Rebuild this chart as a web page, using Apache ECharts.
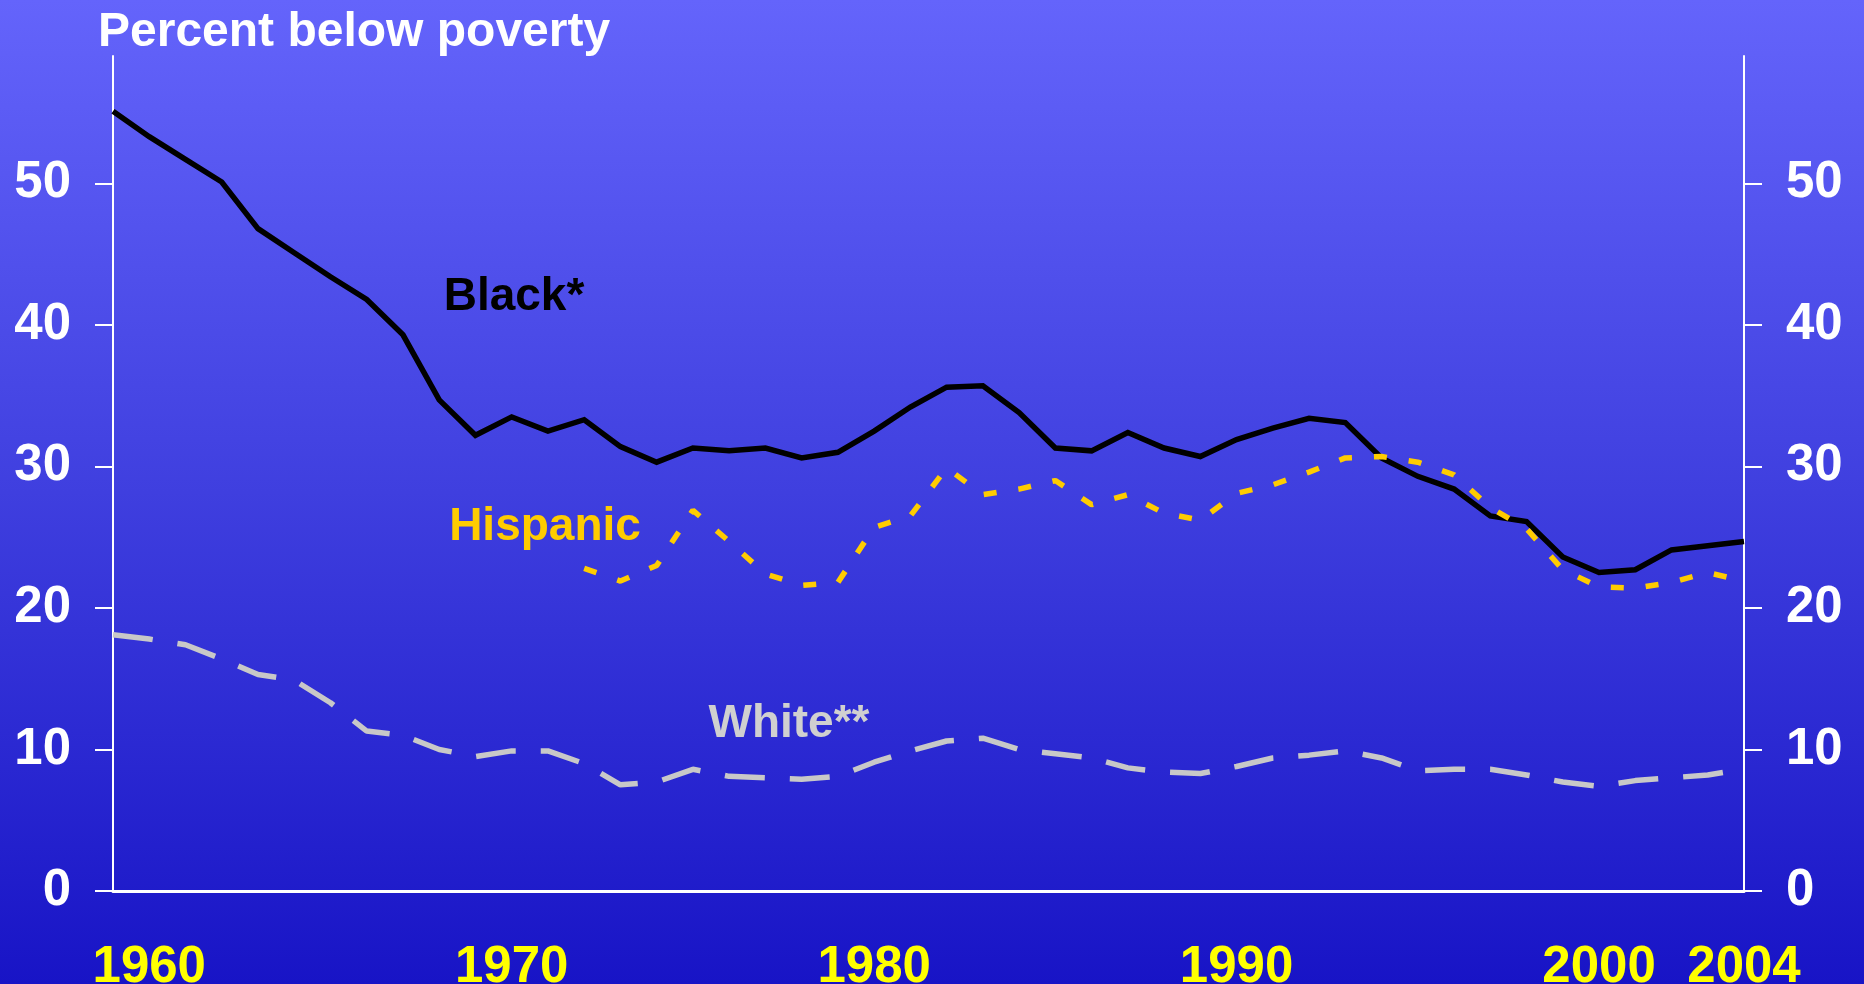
<!DOCTYPE html>
<html><head><meta charset="utf-8">
<script src="https://cdn.jsdelivr.net/npm/echarts@6/dist/echarts.min.js"></script>
<style>
html,body{margin:0;padding:0;width:1864px;height:984px;overflow:hidden;}
#c{width:1864px;height:984px;background:linear-gradient(to bottom,#6464fb 0%,#3f3fdf 50%,#1814c6 100%);}
</style></head><body><div id="c"></div>
<script>
const years = [1959,1960,1961,1962,1963,1964,1965,1966,1967,1968,1969,1970,1971,1972,1973,1974,1975,1976,1977,1978,1979,1980,1981,1982,1983,1984,1985,1986,1987,1988,1989,1990,1991,1992,1993,1994,1995,1996,1997,1998,1999,2000,2001,2002,2003,2004];
const blackValues = [55.1,53.3,51.7,50.1,46.8,45.1,43.4,41.8,39.3,34.7,32.2,33.5,32.5,33.3,31.4,30.3,31.3,31.1,31.3,30.6,31.0,32.5,34.2,35.6,35.7,33.8,31.3,31.1,32.4,31.3,30.7,31.9,32.7,33.4,33.1,30.6,29.3,28.4,26.5,26.1,23.6,22.5,22.7,24.1,24.4,24.7];
const hispanicValues = [null,null,null,null,null,null,null,null,null,null,null,null,null,22.8,21.9,23.0,26.9,24.7,22.4,21.6,21.8,25.7,26.5,29.9,28.0,28.4,29.0,27.3,28.0,26.7,26.2,28.1,28.7,29.6,30.6,30.7,30.3,29.4,27.1,25.6,22.7,21.5,21.4,21.8,22.5,21.9];
const whiteValues = [18.1,17.8,17.4,16.4,15.3,14.9,13.3,11.3,11.0,10.0,9.5,9.9,9.9,9.0,7.5,7.7,8.6,8.1,8.0,7.9,8.1,9.1,9.9,10.6,10.8,10.0,9.7,9.4,8.7,8.4,8.3,8.8,9.4,9.6,9.9,9.4,8.5,8.6,8.6,8.2,7.7,7.4,7.8,8.0,8.2,8.6];
const xTickLabels = [1960,1970,1980,1990,2000,2004];
const yTickLabels = [0,10,20,30,40,50];
const titleText = 'Percent below poverty';
const seriesNames = ['Black*','Hispanic','White**'];

const FONT = '"Liberation Sans", Arial, sans-serif';
const pairs = vals => years.map((y,i)=>[y, vals[i]]);

const chart = echarts.init(document.getElementById('c'), null, {renderer:'canvas'});
const yAxisCommon = {
  type:'value', min:0, max:59,
  splitLine:{show:false},
  axisLine:{show:true, lineStyle:{color:'#ffffff', width:2}},
  axisTick:{show:true, inside:false, length:18, customValues:yTickLabels, lineStyle:{color:'#ffffff', width:2}},
  axisLabel:{customValues:yTickLabels, color:'#ffffff', fontFamily:FONT, fontWeight:'bold', fontSize:51, margin:42}
};
chart.setOption({
  animation:false,
  backgroundColor:'transparent',
  grid:{left:113, right:120, top:56, bottom:93, containLabel:false, outerBoundsMode:'none'},
  xAxis:{
    type:'value', min:1959, max:2004,
    splitLine:{show:false},
    axisLine:{show:true, onZero:false, lineStyle:{color:'#ffffff', width:3}},
    axisTick:{show:false},
    axisLabel:{customValues:xTickLabels, color:'#ffff00', fontFamily:FONT, fontWeight:'bold', fontSize:51, margin:51, formatter:v=>String(v)}
  },
  yAxis:[
    Object.assign({position:'left'}, yAxisCommon),
    Object.assign({position:'right'}, yAxisCommon)
  ],
  series:[
    {name:seriesNames[0], type:'line', data:pairs(blackValues), symbol:'none', yAxisIndex:0,
     lineStyle:{color:'#000000', width:5.5, join:'miter'}},
    {name:seriesNames[1], type:'line', data:pairs(hispanicValues), symbol:'none', yAxisIndex:0, connectNulls:false,
     lineStyle:{color:'#ffcc00', width:5.5, type:[13,22], cap:'butt'}},
    {name:seriesNames[2], type:'line', data:pairs(whiteValues), symbol:'none', yAxisIndex:0,
     lineStyle:{color:'#c8c8c8', width:5.5, type:[40,25], cap:'butt'}}
  ],
  graphic:[
    {type:'text', left:98, top:9, style:{text:titleText, fill:'#ffffff', font:'bold 48px '+FONT}},
    {type:'text', x:514, y:297, style:{text:seriesNames[0], fill:'#000000', font:'bold 46px '+FONT, align:'center', verticalAlign:'middle'}},
    {type:'text', x:545, y:527, style:{text:seriesNames[1], fill:'#ffcc00', font:'bold 46px '+FONT, align:'center', verticalAlign:'middle'}},
    {type:'text', x:789, y:724, style:{text:seriesNames[2], fill:'#d0d0d0', font:'bold 46px '+FONT, align:'center', verticalAlign:'middle'}}
  ]
});
</script></body></html>
